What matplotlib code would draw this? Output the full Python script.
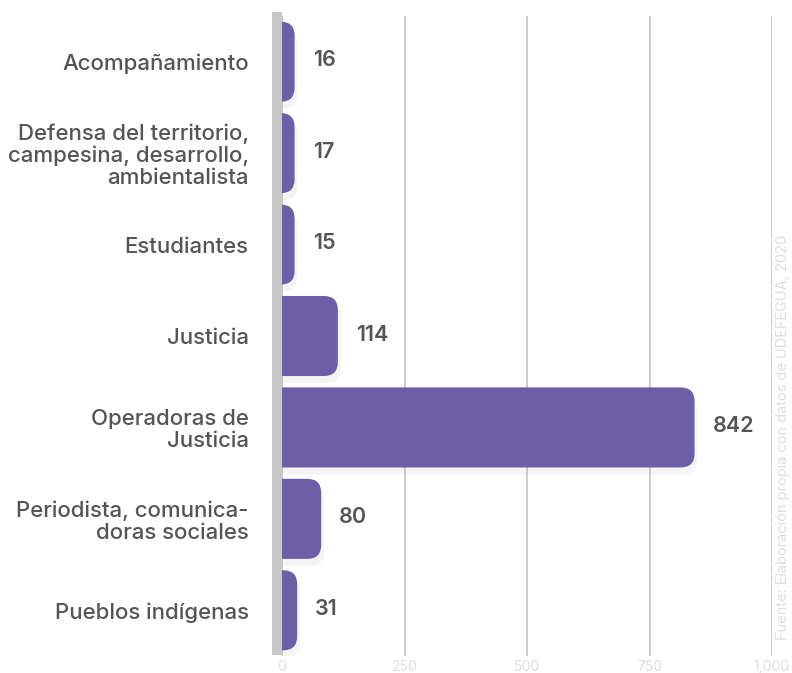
import matplotlib
matplotlib.use("Agg")
import matplotlib.pyplot as plt
import matplotlib.patheffects as pe
from matplotlib.patches import FancyBboxPatch, Rectangle
from matplotlib.ticker import FuncFormatter

categorias = ["Acompañamiento",
              "Defensa del territorio,\ncampesina, desarrollo,\nambientalista",
              "Estudiantes", "Justicia", "Operadoras de\nJusticia",
              "Periodista, comunica-\ndoras sociales", "Pueblos indígenas"]
valores = [16, 17, 15, 114, 842, 80, 31]
ticks = [0, 250, 500, 750, 1000]
fuente = "Fuente: Elaboración propia con datos de UDEFEGUA, 2020"

MORADO = "#6e5ea8"
plt.rcParams["font.family"] = ["Inter", "DejaVu Sans"]

W, H = 792, 673
fig = plt.figure(figsize=(W / 100, H / 100), dpi=100)
ax = fig.add_axes([282 / W, 1 - 656 / H, 490 / W, 640 / H])
ax.set_xlim(0, 1000)
ax.set_ylim(len(valores) - 0.5, -0.5)

# escala px por unidad para redondear esquinas
px_x = 490 / 1000
px_y = 640 / len(valores)
R = 14 / px_x            # radio en unidades de datos (x)
alto = 0.876

for i, v in enumerate(valores):
    ancho = max(v, R * 0.9)
    p = FancyBboxPatch((-R, i - alto / 2), ancho + R, alto,
                       boxstyle=f"round,pad=0,rounding_size={R}",
                       mutation_aspect=px_x / px_y,
                       fc=MORADO, ec="none", zorder=3, clip_on=True,
                       path_effects=[pe.SimplePatchShadow(offset=(2, -5), shadow_rgbFace="#aaaaaa",
                                                          alpha=0.12),
                                     pe.Normal()])
    ax.add_patch(p)
    ax.annotate(f"{v}", (ancho, i), xytext=(13, 1), textcoords="offset points",
                va="center", ha="left", fontsize=15.5, fontweight="semibold", color="#555555",
                zorder=4)

ax.set_xticks(ticks)
ax.xaxis.set_major_formatter(FuncFormatter(lambda x, _: f"{int(x):,}"))
ax.tick_params(axis="x", length=0, labelsize=10, labelcolor="#dddddd", pad=3)
ax.set_yticks(range(len(categorias)), categorias)
ax.tick_params(axis="y", length=0, labelsize=16, labelcolor="#555555", pad=24)
for t in ax.get_yticklabels():
    t.set_fontweight("medium")
    t.set_linespacing(1.1)
ax.grid(axis="x", color="#cccccc", linewidth=1.4, zorder=0)
ax.set_axisbelow(True)
for s in ax.spines.values():
    s.set_visible(False)

# barra gris del eje
fig.add_artist(Rectangle((272 / W, 1 - 655 / H), 10 / W, 643 / H,
                         transform=fig.transFigure, fc="#c8c8c8", ec="none", zorder=5))

fig.text(783 / W, 1 - 640 / H, fuente, rotation=90, ha="center", va="bottom",
         fontsize=10.5, color="#dddddd")

fig.savefig("out.png", dpi=100)
